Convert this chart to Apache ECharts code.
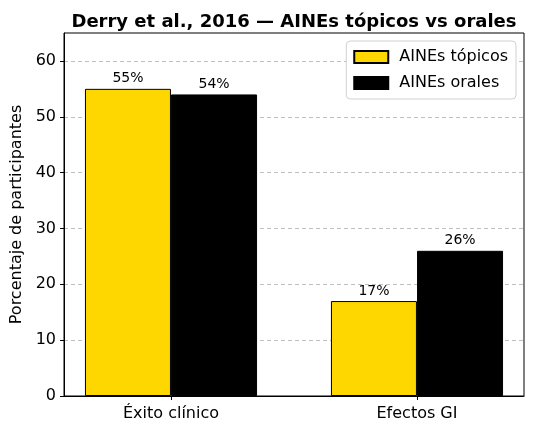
<!DOCTYPE html>
<html>
<head>
<meta charset="utf-8">
<script src="https://cdn.jsdelivr.net/npm/echarts@6/dist/echarts.min.js"></script>
<style>
  html, body { margin: 0; padding: 0; background: #fff; }
  #chart { width: 534px; height: 434px; }
</style>
</head>
<body>
<div id="chart"></div>
<script>
const categories = ['Éxito clínico', 'Efectos GI'];
const topicos = [55, 17];
const orales = [54, 26];
const yTicks = [0, 10, 20, 30, 40, 50, 60];

const W = 0.35;
const font = 'DejaVu Sans';

const chart = echarts.init(document.getElementById('chart'), null, { renderer: 'canvas' });

const labelOpt = {
  show: true,
  position: 'top',
  distance: 3,
  fontFamily: font,
  fontSize: 14,
  color: '#000',
  formatter: p => p.value[1] + '%'
};

chart.setOption({
  animation: false,
  textStyle: { fontFamily: font },
  title: {
    text: 'Derry et al., 2016 — AINEs tópicos vs orales',
    left: 289,
    top: 8,
    textAlign: 'center',
    textStyle: { fontFamily: font, fontSize: 18, fontWeight: 'bold', color: '#000' }
  },
  legend: {
    orient: 'vertical',
    right: 18,
    top: 41,
    align: 'left',
    icon: 'rect',
    padding: [8, 8, 8, 7],
    itemWidth: 34,
    itemHeight: 12,
    itemGap: 10,
    backgroundColor: '#fff',
    borderColor: '#d0d0d0',
    borderWidth: 1,
    borderRadius: 4,
    textStyle: { fontFamily: font, fontSize: 16, color: '#000', padding: [0, 0, 0, 6] },
    data: ['AINEs tópicos', 'AINEs orales']
  },
  grid: {
    left: 64, right: 10, top: 33, bottom: 38,
    show: true,
    borderColor: '#000',
    borderWidth: 1,
    backgroundColor: 'transparent'
  },
  xAxis: {
    type: 'value',
    min: -0.435,
    max: 1.435,
    axisLine: { show: true, lineStyle: { color: '#000' } },
    splitLine: { show: false },
    axisTick: { show: true, customValues: [0, 1], length: 4, lineStyle: { color: '#000' } },
    axisLabel: {
      customValues: [0, 1],
      formatter: v => categories[Math.round(v)],
      fontFamily: font, fontSize: 16, color: '#000', margin: 10
    }
  },
  yAxis: {
    type: 'value',
    min: 0,
    max: 65,
    name: 'Porcentaje de participantes',
    nameLocation: 'middle',
    nameGap: 38,
    nameTextStyle: { fontFamily: font, fontSize: 16, color: '#000' },
    axisLine: { show: true, onZero: false, lineStyle: { color: '#000' } },
    axisTick: { show: true, customValues: yTicks, length: 4, lineStyle: { color: '#000' } },
    axisLabel: { customValues: yTicks, fontFamily: font, fontSize: 16, color: '#000', margin: 8 },
    splitLine: { show: true, lineStyle: { color: '#b0b0b0', type: [4, 3], width: 0.8 } }
  },
  series: [
    {
      name: 'AINEs tópicos',
      type: 'bar',
      barWidth: 86,
      barGap: '-100%',
      itemStyle: { color: '#FFD700', borderColor: '#000', borderWidth: 1 },
      label: labelOpt,
      data: topicos.map((v, i) => [i - W / 2, v])
    },
    {
      name: 'AINEs orales',
      type: 'bar',
      barWidth: 86,
      barGap: '-100%',
      itemStyle: { color: '#000', borderColor: '#000', borderWidth: 1 },
      label: labelOpt,
      data: orales.map((v, i) => [i + W / 2, v])
    }
  ]
});
</script>
</body>
</html>
